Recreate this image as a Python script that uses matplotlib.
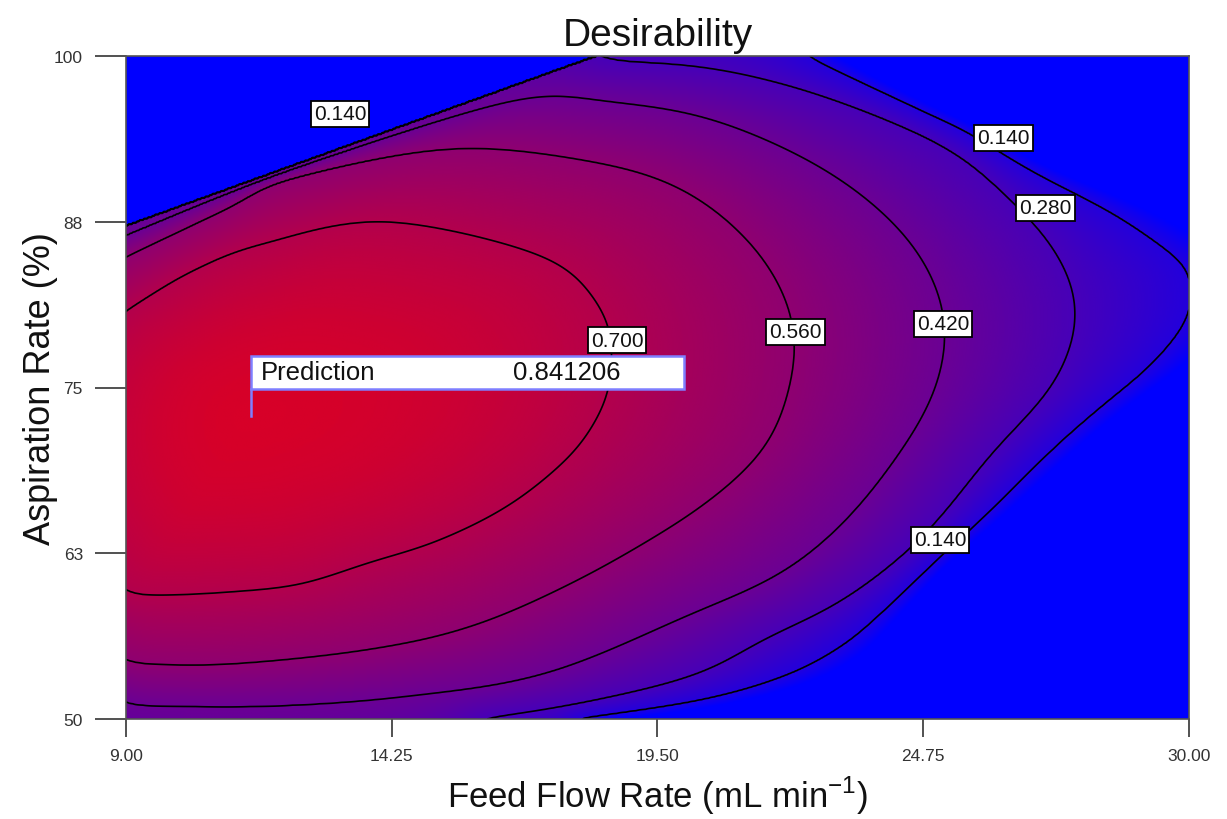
import numpy as np
import matplotlib
matplotlib.use("Agg")
import matplotlib.pyplot as plt
from matplotlib.colors import LinearSegmentedColormap
from matplotlib.patches import Rectangle

plt.rcParams['font.family'] = ['Liberation Sans', 'DejaVu Sans']

# ---- factor ranges and axis ticks ----
feed_range = [9.0, 30.0]
asp_range = [50.0, 100.0]
x_ticks = [9.00, 14.25, 19.50, 24.75, 30.00]
x_tick_labels = ["9.00", "14.25", "19.50", "24.75", "30.00"]
y_ticks = [50.0, 62.5, 75.0, 87.5, 100.0]
y_tick_labels = ["50", "63", "75", "88", "100"]

contour_levels = [0.140, 0.280, 0.420, 0.560, 0.700]

# ---- iso-desirability lines (feed flow rate, aspiration rate), in path order ----
d070_x = [9.00, 10.28, 11.71, 14.18, 17.36, 18.34, 18.58, 18.54, 18.19, 17.85,
          16.65, 15.22, 13.82, 12.42, 10.99, 9.59, 9.00]
d070_y = [80.77, 83.71, 85.82, 87.48, 84.69, 81.15, 79.19, 74.66, 72.02, 70.14,
          66.36, 63.57, 61.84, 60.18, 59.58, 59.35, 59.50]

d056_x = [9.00, 11.00, 12.26, 15.50, 18.36, 20.00, 21.33, 22.06, 22.26, 22.14,
          21.68, 20.34, 19.89, 18.05, 15.93, 13.82, 11.00, 9.00]
d056_y = [84.84, 88.46, 90.72, 92.99, 91.86, 89.97, 85.97, 81.67, 77.90, 75.64,
          70.51, 65.99, 64.86, 60.78, 57.16, 55.28, 54.15, 54.22]

d042_x = [9.00, 12.30, 16.82, 18.36, 20.34, 22.31, 23.64, 24.63, 25.14, 25.22,
          24.94, 24.35, 23.34, 22.00, 20.34, 17.36, 14.53, 11.71, 9.00]
d042_y = [86.43, 91.40, 96.76, 96.53, 95.48, 92.46, 89.22, 85.44, 81.45, 78.28,
          74.13, 70.51, 65.46, 61.09, 58.30, 53.54, 51.73, 50.98, 51.06]

d028_x = [18.36, 20.34, 22.31, 24.29, 25.61, 26.27, 27.12, 27.65, 27.81, 27.79,
          27.51, 27.19, 26.35, 25.14, 24.35, 23.01, 21.68, 20.34, 18.05, 15.93]
d028_y = [99.55, 99.17, 97.51, 94.72, 92.23, 89.74, 86.73, 83.41, 81.67, 79.19,
          76.40, 74.13, 71.34, 65.46, 62.37, 58.60, 56.26, 53.47, 51.28, 50.00]

d014_x = [22.45, 23.30, 24.94, 25.61, 26.92, 28.58, 29.88, 30.00, 30.00, 29.23,
          28.44, 27.35, 26.01, 25.00, 24.01, 23.14, 22.00, 20.34, 17.91]
d014_y = [100.0, 98.42, 95.48, 94.27, 91.25, 87.93, 84.46, 83.94, 80.39, 76.62,
          74.13, 70.51, 65.46, 61.92, 58.30, 55.51, 53.24, 51.43, 50.00]

# prediction flag (optimum)
pred_x = 11.47
pred_y = 72.85
pred_value = 0.841206

# upper-left limit: beyond this line a response leaves its range (d = 0)
limit_feed = [9.0, 18.27]
limit_asp = [87.2, 100.0]

# contour label placement
label_x = [13.23, 26.33, 27.16, 25.14, 22.22, 18.70, 25.08]
label_y = [95.63, 93.82, 88.54, 79.79, 79.19, 78.58, 63.50]
label_text = ["0.140", "0.140", "0.280", "0.420", "0.560", "0.700", "0.140"]

# ---- figure geometry ----
FIG_W, FIG_H = 1227, 820
AX_L, AX_R, AX_T, AX_B = 126, 1189, 57, 720
sx = (AX_R - AX_L) / (feed_range[1] - feed_range[0])   # px per feed unit
sy = (AX_B - AX_T) / (asp_range[1] - asp_range[0])     # px per aspiration unit


def smooth_path(xs_, ys_, n=16):
    """Catmull-Rom resampling of an ordered polyline."""
    P = np.column_stack([xs_, ys_]).astype(float)
    P = np.vstack([P[0], P, P[-1]])
    out = []
    t = np.linspace(0, 1, n, endpoint=False)[:, None]
    for i in range(1, len(P) - 2):
        p0, p1, p2, p3 = P[i - 1], P[i], P[i + 1], P[i + 2]
        seg = 0.5 * ((2 * p1) + (-p0 + p2) * t + (2 * p0 - 5 * p1 + 4 * p2 - p3) * t ** 2
                     + (-p0 + 3 * p1 - 3 * p2 + p3) * t ** 3)
        out.append(seg)
    out.append(P[-2][None, :])
    S = np.vstack(out)
    return S[:, 0], S[:, 1]


def polar(x, y):
    u = (np.asarray(x) - pred_x) * sx
    v = (np.asarray(y) - pred_y) * sy
    return np.arctan2(v, u), np.hypot(u, v)


def radius_profile(gx, gy, grid, sigma_deg):
    """Radius of an iso-line versus angle around the optimum, lightly smoothed."""
    qx, qy = smooth_path(gx, gy)
    th, r = polar(qx, qy)
    rg = np.interp(grid, th, r, period=2 * np.pi)
    step = np.degrees(grid[1] - grid[0])
    half = max(int(4 * sigma_deg / step), 1)
    k = np.exp(-0.5 * (np.arange(-half, half + 1) * step / sigma_deg) ** 2)
    k /= k.sum()
    padded = np.concatenate([rg[-half:], rg, rg[:half]])
    return np.convolve(padded, k, mode="valid")


# ---- desirability surface rebuilt from the iso-lines around the optimum ----
paths = [(d070_x, d070_y), (d056_x, d056_y), (d042_x, d042_y),
         (d028_x, d028_y), (d014_x, d014_y)]
levels_desc = [0.70, 0.56, 0.42, 0.28, 0.14]
smoothing_deg = [3.0, 3.0, 2.5, 2.0, 0.8]

xs = np.linspace(feed_range[0], feed_range[1], 760)
ys = np.linspace(asp_range[0], asp_range[1], 480)
X, Y = np.meshgrid(xs, ys)
TH, R = polar(X, Y)

ang = np.linspace(-np.pi, np.pi, 1440, endpoint=False)
radii = []
for (gx, gy), sg in zip(paths, smoothing_deg):
    prof = radius_profile(gx, gy, ang, sg)
    radii.append(np.interp(TH, ang, prof, period=2 * np.pi))
radii = np.maximum.accumulate(np.array(radii), axis=0)

D = np.zeros_like(R)
R70 = radii[0]
m = R <= R70
D[m] = pred_value - (pred_value - levels_desc[0]) * (R[m] / R70[m]) ** 2
for k in range(len(levels_desc) - 1):
    lo, hi = radii[k], radii[k + 1]
    m = (R > lo) & (R <= hi)
    t = (R[m] - lo[m]) / np.maximum(hi[m] - lo[m], 1e-9)
    D[m] = levels_desc[k] + t * (levels_desc[k + 1] - levels_desc[k])
R14, R28 = radii[-1], radii[-2]
m = R > R14
fall = 0.4 * (R14[m] - R28[m]) + 1e-9
D[m] = levels_desc[-1] * np.clip(1 - (R[m] - R14[m]) / fall, 0, 1)

slope = (limit_asp[1] - limit_asp[0]) / (limit_feed[1] - limit_feed[0])
D[Y > limit_asp[0] + slope * (X - limit_feed[0])] = 0.0
D = np.clip(D, 0, 1)

cmap = LinearSegmentedColormap.from_list("desir", [(0.0, 0.0, 1.0), (1.0, 0.0, 0.0)])

# ---- figure ----
fig = plt.figure(figsize=(FIG_W / 100, FIG_H / 100), dpi=100)
ax = fig.add_axes([AX_L / FIG_W, 1 - AX_B / FIG_H, (AX_R - AX_L) / FIG_W, (AX_B - AX_T) / FIG_H])

ax.imshow(D, origin="lower", extent=[feed_range[0], feed_range[1], asp_range[0], asp_range[1]],
          aspect="auto", cmap=cmap, vmin=0, vmax=1, interpolation="bilinear")
ax.contour(xs, ys, D, levels=contour_levels, colors="black", linewidths=1.2)

for lx, ly, lt in zip(label_x, label_y, label_text):
    ax.text(lx, ly, lt, ha="center", va="center", fontsize=15, color="#111111",
            bbox=dict(boxstyle="square,pad=0.15", fc="white", ec="black", lw=1.3), zorder=5)

# prediction flag
flag_color = "#7f7fff"
box_w, box_h, box_off = 8.55, 2.49, 2.04
ax.plot([pred_x, pred_x], [pred_y, pred_y + box_off], color=flag_color, lw=1.8, zorder=6)
ax.add_patch(Rectangle((pred_x, pred_y + box_off), box_w, box_h, fc="white",
                       ec=flag_color, lw=1.8, zorder=6))
ax.text(pred_x + 0.20, pred_y + box_off + box_h / 2, "Prediction", ha="left", va="center",
        fontsize=18.5, color="#111111", zorder=7)
ax.text(pred_x + 7.3, pred_y + box_off + box_h / 2, f"{pred_value:.6f}", ha="right",
        va="center", fontsize=18.5, color="#111111", zorder=7)

ax.set_xlim(feed_range)
ax.set_ylim(asp_range)
ax.set_xticks(x_ticks)
ax.set_xticklabels(x_tick_labels)
ax.set_yticks(y_ticks)
ax.set_yticklabels(y_tick_labels)
for t in ax.get_xticklabels() + ax.get_yticklabels():
    t.set_fontsize(12.5)
    t.set_color("#333333")
ax.tick_params(axis="x", direction="out", length=13, width=1.2, pad=8, colors="#333333")
ax.tick_params(axis="y", direction="out", length=22, width=1.2, pad=9, colors="#333333")
for s in ax.spines.values():
    s.set_color("#555555")
    s.set_linewidth(1.2)

ax.set_title("Desirability", fontsize=28, pad=8, color="#111111")
ax.set_xlabel("Feed Flow Rate (mL min$^{\\mathregular{-1}}$)", fontsize=25, labelpad=8,
              color="#111111")
ax.set_ylabel("Aspiration Rate (%)", fontsize=26, color="#111111")
ax.yaxis.set_label_coords(-0.064, 0.5)

fig.savefig("out.png", dpi=100)
